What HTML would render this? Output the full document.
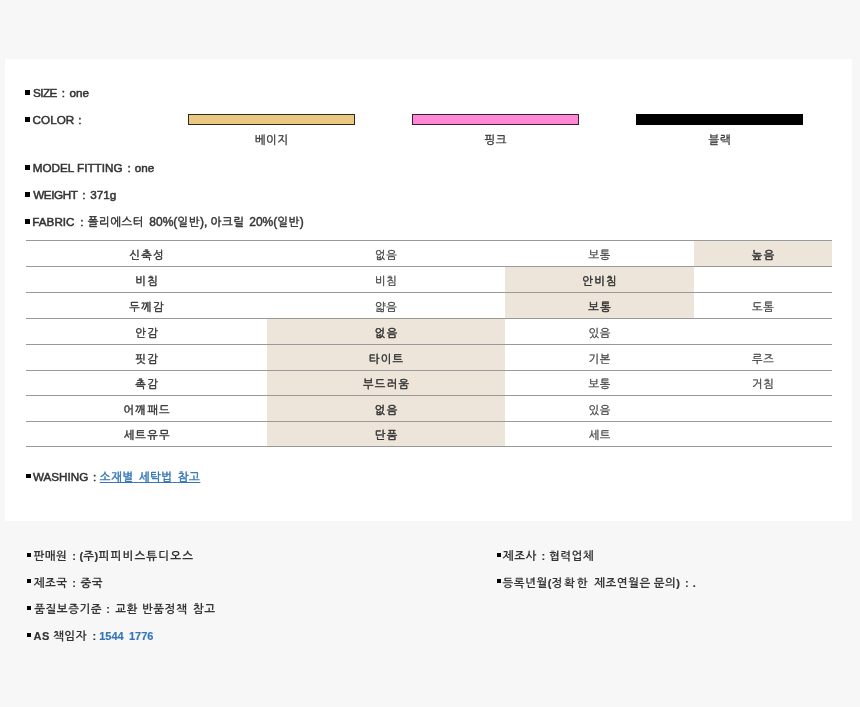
<!DOCTYPE html>
<html lang="ko">
<head>
<meta charset="utf-8">
<title>상품정보</title>
<style>
html,body{margin:0;padding:0;}
body{width:860px;height:707px;background:#f7f7f7;font-family:"Liberation Sans","NanumGothic","Noto Sans CJK KR",sans-serif;font-size:12px;color:#333;overflow:hidden;position:relative;-webkit-text-stroke:0.45px currentColor;}
.panel{position:absolute;left:5.4px;top:58.7px;width:846.9px;height:462.6px;background:#fff;}
.s{position:absolute;white-space:nowrap;line-height:14px;height:14px;}
.g{font-size:11.5px;letter-spacing:var(--ls,0.5px);}
.l{font-size:11.7px;-webkit-text-stroke:0.5px currentColor;}
.k2{font-weight:bold;-webkit-text-stroke:0;}
.l2,.k2 i{font-size:11px;font-weight:bold;font-style:normal;-webkit-text-stroke:0.15px currentColor;}
.bul{position:absolute;background:#000;}
.bar{position:absolute;top:113.7px;height:9.6px;width:165px;border:1px solid #33291a;}
.clab{position:absolute;top:132.6px;width:167px;text-align:center;line-height:14px;color:#3a3a3a;-webkit-text-stroke:0.35px currentColor;font-size:11.5px;letter-spacing:0.5px;text-indent:0.5px;}
table{position:absolute;left:26px;top:240px;width:806px;border-collapse:collapse;table-layout:fixed;}
td{height:22.2px;padding:2.8px 0 0 0.75px;border-top:1px solid #999;border-bottom:1px solid #999;text-align:center;color:#484848;line-height:14px;-webkit-text-stroke:0.3px currentColor;font-size:11.2px;letter-spacing:0.75px;}
tr.b td{height:21.2px;}
td.h{color:#333;-webkit-text-stroke:0.42px currentColor;letter-spacing:1.35px;padding-left:1.35px;}
td.on{background:#ede5da;color:#333;-webkit-text-stroke:0.48px currentColor;letter-spacing:1.35px;padding-left:1.35px;}
a{color:#3375b8;text-decoration:underline;}
.blue{color:#3375b8;}
</style>
</head>
<body>
<div class="panel"></div>

<div class="bul" style="left:25.4px;top:90px;width:5px;height:4.7px"></div>
<span class="s l" style="left:32.93px;top:86px;letter-spacing:-0.5px">SIZE</span>
<span class="s l" style="left:61.78px;top:86px;">:</span>
<span class="s l" style="left:69.45px;top:86px;">one</span>
<div class="bul" style="left:25.4px;top:117px;width:5px;height:4.7px"></div>
<span class="s l" style="left:32.61px;top:113px;">COLOR</span>
<span class="s l" style="left:78.36px;top:113px;">:</span>
<div class="bar" style="left:188px;background:#e9c883"></div>
<div class="bar" style="left:412px;background:#ff88d4;border-color:#3d1c33"></div>
<div class="bar" style="left:636px;background:#000;border-color:#000"></div>
<div class="clab" style="left:188px">베이지</div>
<div class="clab" style="left:412px">핑크</div>
<div class="clab" style="left:636px">블랙</div>

<table>
<colgroup><col style="width:241px"><col style="width:238px"><col style="width:189px"><col style="width:138px"></colgroup>
<tr><td class="h">신축성</td><td>없음</td><td>보통</td><td class="on">높음</td></tr>
<tr><td class="h">비침</td><td>비침</td><td class="on">안비침</td><td></td></tr>
<tr><td class="h">두께감</td><td>얇음</td><td class="on">보통</td><td>도톰</td></tr>
<tr><td class="h">안감</td><td class="on">없음</td><td>있음</td><td></td></tr>
<tr><td class="h">핏감</td><td class="on">타이트</td><td>기본</td><td>루즈</td></tr>
<tr class="b"><td class="h">촉감</td><td class="on">부드러움</td><td>보통</td><td>거침</td></tr>
<tr><td class="h">어깨패드</td><td class="on">없음</td><td>있음</td><td></td></tr>
<tr class="b"><td class="h">세트유무</td><td class="on">단품</td><td>세트</td><td></td></tr>
</table>

<div class="bul" style="left:25.4px;top:165px;width:5px;height:4.7px"></div>
<span class="s l" style="left:32.72px;top:161px;">MODEL FITTING</span>
<span class="s l" style="left:127.56px;top:161px;">:</span>
<span class="s l" style="left:134.65px;top:161px;">one</span>
<div class="bul" style="left:25.4px;top:192px;width:5px;height:4.7px"></div>
<span class="s l" style="left:33.14px;top:188px;letter-spacing:-0.4px">WEIGHT</span>
<span class="s l" style="left:82.34px;top:188px;">:</span>
<span class="s l" style="left:90.17px;top:188px;">371g</span>
<div class="bul" style="left:25.4px;top:219px;width:5px;height:4.7px"></div>
<span class="s l" style="left:32.32px;top:215px;">FABRIC</span>
<span class="s l" style="left:80.36px;top:215px;">:</span>
<span class="s k" style="left:87.63px;top:215px;"><span class="g">폴리에스터</span></span>
<span class="s k" style="left:149.34px;top:215px;">80%(<span class="g">일반</span>),</span>
<span class="s k" style="left:210.58px;top:215px;"><span class="g">아크릴</span></span>
<span class="s k" style="left:249.23px;top:215px;">20%(<span class="g">일반</span>)</span>
<div class="bul" style="left:26.3px;top:474px;width:4.3px;height:4px"></div>
<span class="s l" style="left:32.88px;top:470px;">WASHING</span>
<span class="s l" style="left:92.98px;top:470px;">:</span>
<span class="s k" style="left:99.78px;top:470px;word-spacing:1.7px"><a><span class="g">소재별</span> <span class="g">세탁법</span> <span class="g">참고</span></a></span>
<div class="bul" style="left:26.6px;top:552.5px;width:4.7px;height:4.4px"></div>
<span class="s k2" style="left:33.44px;top:549px;"><span class="g">판매원</span></span>
<span class="s l2" style="left:72.15px;top:549px;">:</span>
<span class="s k2" style="left:79.53px;top:549px;"><i>(</i><span class="g">주</span><i>)</i></span>
<span class="s k2" style="left:98.50px;top:549px;--ls:1.15px"><span class="g">피피비스튜디오스</span></span>
<div class="bul" style="left:26.6px;top:579px;width:4.7px;height:4.4px"></div>
<span class="s k2" style="left:33.65px;top:575.5px;"><span class="g">제조국</span></span>
<span class="s l2" style="left:72.15px;top:575.5px;">:</span>
<span class="s k2" style="left:80.49px;top:575.5px;"><span class="g">중국</span></span>
<div class="bul" style="left:26.6px;top:605.5px;width:4.7px;height:4.4px"></div>
<span class="s k2" style="left:34.26px;top:602px;"><span class="g">품질보증기준</span></span>
<span class="s l2" style="left:106.34px;top:602px;">:</span>
<span class="s k2" style="left:115.32px;top:602px;"><span class="g">교환</span></span>
<span class="s k2" style="left:141.98px;top:602px;"><span class="g">반품정책</span></span>
<span class="s k2" style="left:192.89px;top:602px;"><span class="g">참고</span></span>
<div class="bul" style="left:26.6px;top:632.5px;width:4.7px;height:4.4px"></div>
<span class="s l2" style="left:33.39px;top:629px;">A</span>
<span class="s l2" style="left:42.03px;top:629px;">S</span>
<span class="s k2" style="left:53.05px;top:629px;"><span class="g">책임자</span></span>
<span class="s l2" style="left:92.54px;top:629px;">:</span>
<span class="s l2" style="left:99.23px;top:629px;"><b class="blue">1544</b></span>
<span class="s l2" style="left:128.94px;top:629px;"><b class="blue">1776</b></span>
<div class="bul" style="left:496.7px;top:552.5px;width:4.7px;height:4.4px"></div>
<span class="s k2" style="left:502.85px;top:549px;"><span class="g">제조사</span></span>
<span class="s l2" style="left:541.54px;top:549px;">:</span>
<span class="s k2" style="left:548.93px;top:549px;"><span class="g">협력업체</span></span>
<div class="bul" style="left:496.7px;top:579px;width:4.7px;height:4.4px"></div>
<span class="s k2" style="left:502.56px;top:575.5px;"><span class="g">등록년월</span><i>(</i></span>
<span class="s k2" style="left:551.48px;top:575.5px;--ls:1.8px"><span class="g">정확한</span></span>
<span class="s k2" style="left:594.21px;top:575.5px;"><span class="g">제조연월은</span></span>
<span class="s k2" style="left:653.66px;top:575.5px;"><span class="g">문의</span><i>)</i></span>
<span class="s l2" style="left:684.93px;top:575.5px;">:</span>
<span class="s l2" style="left:692.79px;top:575.5px;">.</span>
</body>
</html>
